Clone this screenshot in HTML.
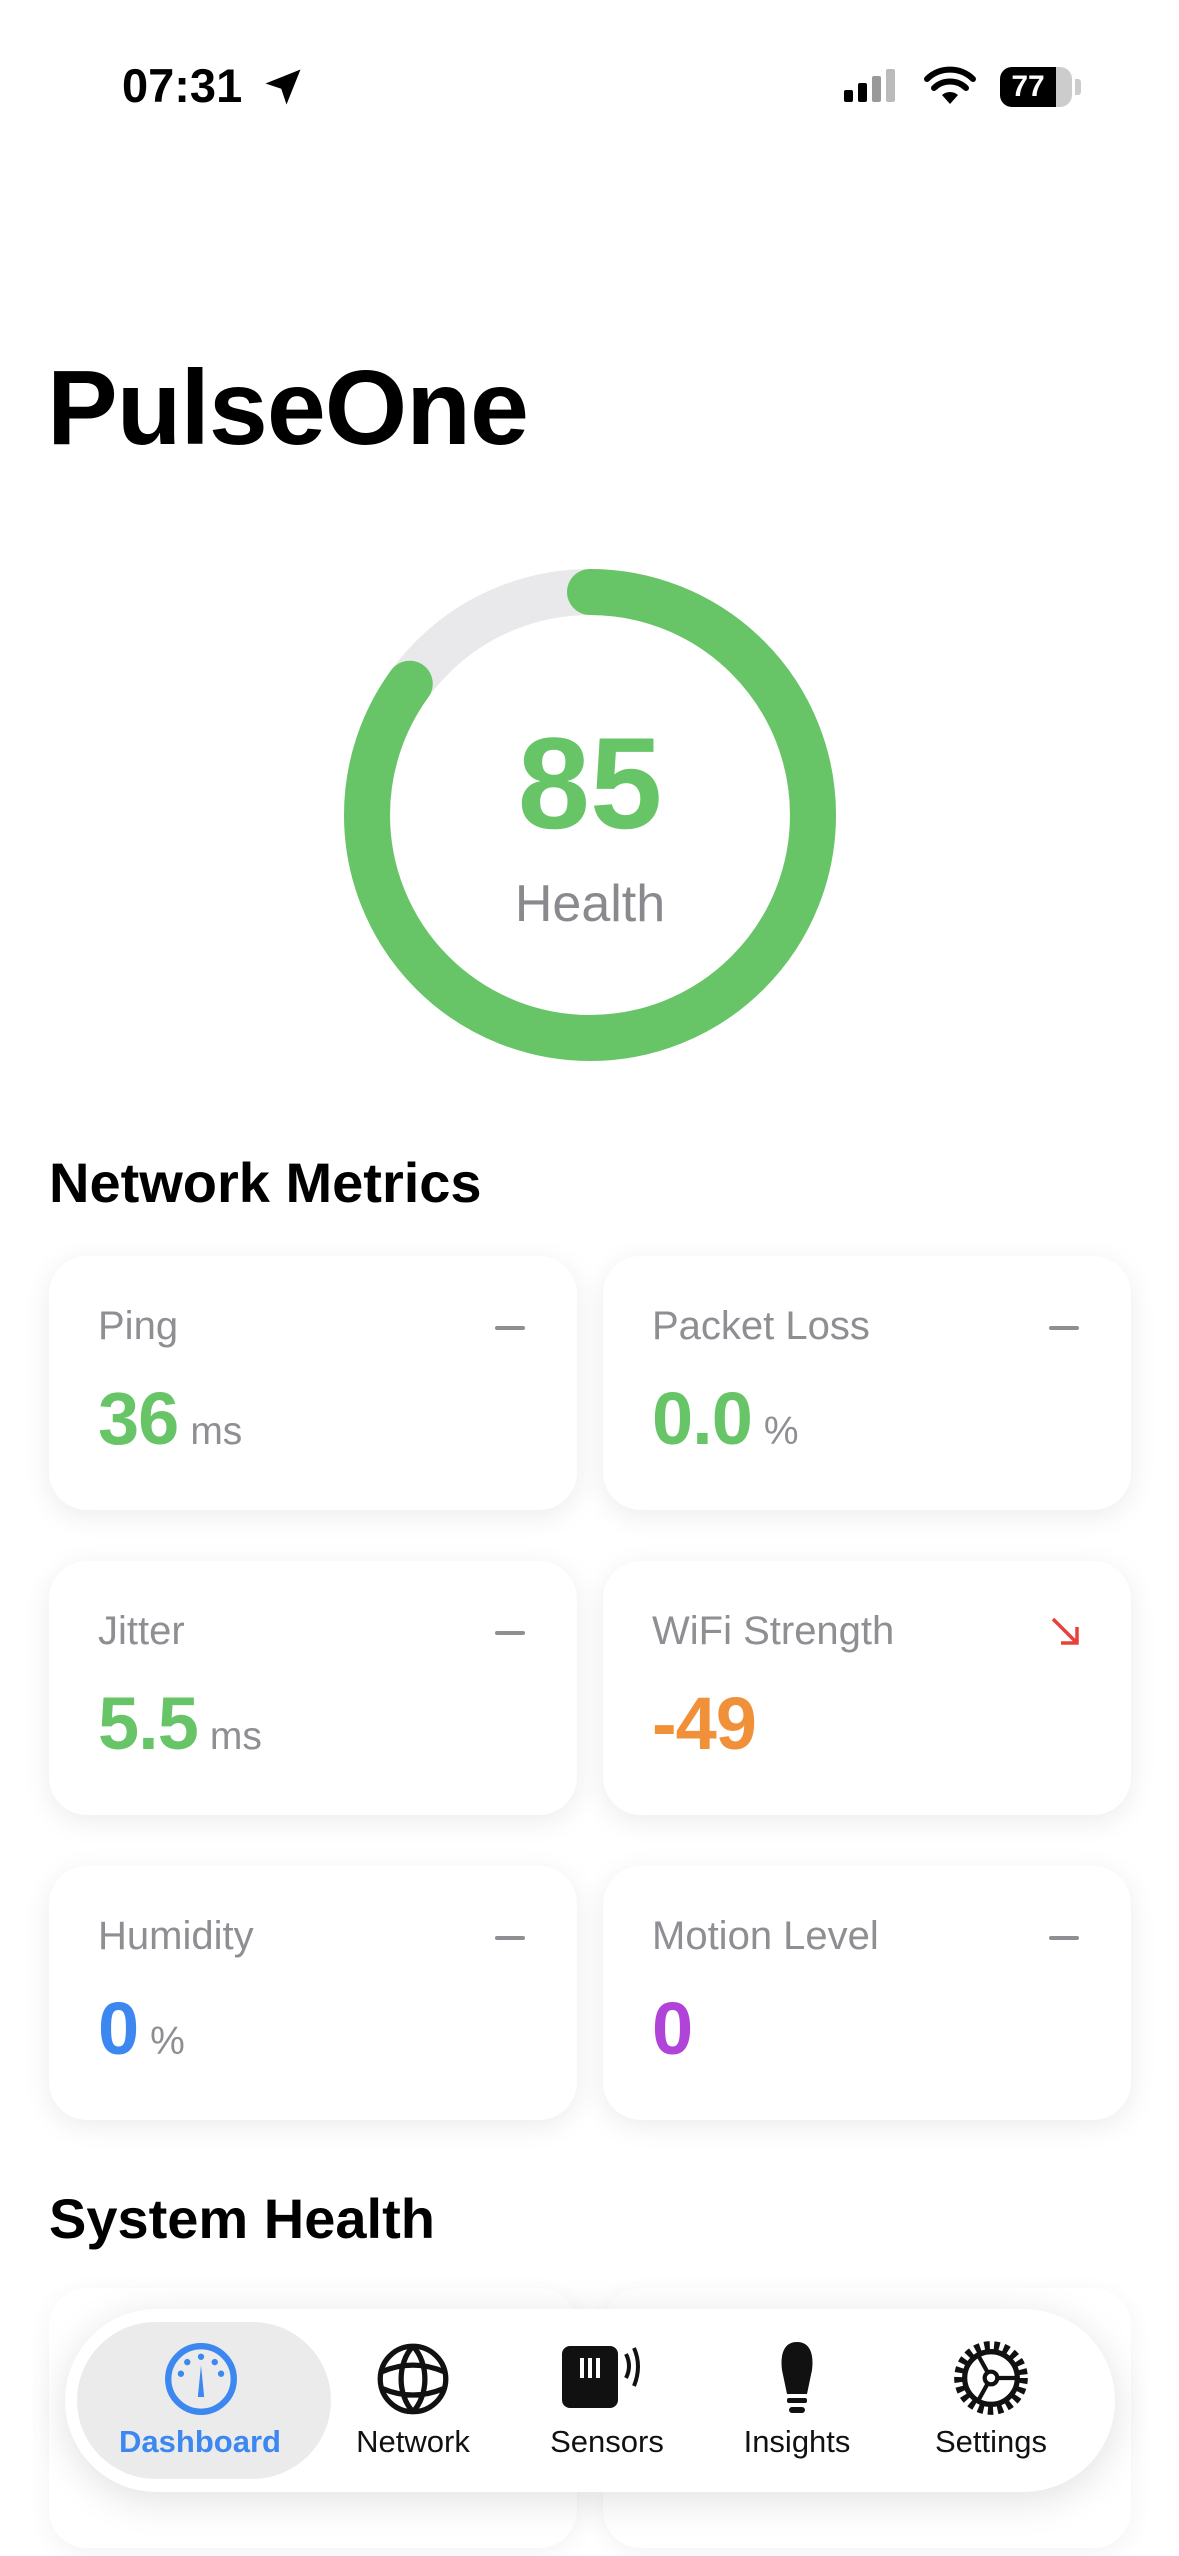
<!DOCTYPE html>
<html><head><meta charset="utf-8"><style>
*{margin:0;padding:0;box-sizing:border-box}
body{width:1179px;height:2556px;background:#fff;font-family:"Liberation Sans","DejaVu Sans",sans-serif;position:relative;overflow:hidden}
.abs{position:absolute}
.card{position:absolute;width:528px;height:254px;background:#fff;border-radius:38px;box-shadow:0 6px 28px rgba(0,0,0,0.08)}
.lbl{position:absolute;left:49px;top:48px;font-size:40px;color:#8e8e93}
.dash{position:absolute;right:52px;top:70px;width:30px;height:4px;background:#8e8e93;border-radius:2px}
.val{position:absolute;left:49px;top:120px;font-size:74px;font-weight:bold;letter-spacing:-1px}
.unit{font-size:39px;font-weight:normal;color:#8e8e93;margin-left:12px;letter-spacing:0}
.h2{position:absolute;left:49px;font-size:56px;font-weight:bold;color:#000}
.tab{position:absolute;top:2424px;font-size:31px;color:#111;transform:translateX(-50%)}
</style></head><body>
<div class="abs" style="left:122px;top:58px;font-size:47px;font-weight:bold">07:31</div>
<svg class="abs" style="left:262px;top:66px" width="42" height="42" viewBox="0 0 24 24"><path d="M22 2 L2 10 L11 13 L14 22 Z" fill="#000"/></svg>
<svg class="abs" style="left:844px;top:68px" width="60" height="40"><rect x="0" y="22" width="9" height="12" rx="2"/><rect x="14" y="15" width="9" height="19" rx="2"/><rect x="28" y="8" width="9" height="26" rx="2" fill="#999"/><rect x="42" y="1" width="9" height="33" rx="2" fill="#bbb"/></svg>
<svg class="abs" style="left:924px;top:66px" width="52" height="40" viewBox="0 0 52 40"><path d="M26 38 L18 29 A12 12 0 0 1 34 29 Z" fill="#000"/><path d="M10 22 A23 23 0 0 1 42 22" stroke="#000" stroke-width="6" fill="none" stroke-linecap="round"/><path d="M3 13 A33 33 0 0 1 49 13" stroke="#000" stroke-width="6" fill="none" stroke-linecap="round"/></svg>
<div class="abs" style="left:1000px;top:67px;width:72px;height:40px;border-radius:12px;background:#ccc;overflow:hidden"><div style="width:56px;height:40px;background:#000;color:#fff;font-weight:bold;font-size:30px;text-align:center;line-height:40px">77</div></div>
<div class="abs" style="left:1075px;top:79px;width:6px;height:16px;background:#ccc;border-radius:0 3px 3px 0"></div>

<div class="abs" style="left:47px;top:348px;font-size:106px;font-weight:bold;letter-spacing:-1px">PulseOne</div>

<svg class="abs" style="left:0;top:0" width="1179" height="1100">
<circle cx="590" cy="815" r="223" stroke="#e9e9eb" stroke-width="46" fill="none"/>
<circle cx="590" cy="815" r="223" stroke="#67c567" stroke-width="46" fill="none" stroke-linecap="round" stroke-dasharray="1191 2000" transform="rotate(-90 590 815)"/>
</svg>
<div class="abs" style="left:390px;width:400px;text-align:center;top:708px;font-size:130px;font-weight:bold;color:#67c567">85</div>
<div class="abs" style="left:390px;width:400px;text-align:center;top:874px;font-size:52px;color:#8a8a8e">Health</div>

<div class="h2" style="top:1150px">Network Metrics</div>

<div class="card" style="left:49px;top:1256px"><div class="lbl">Ping</div><div class="dash"></div><div class="val" style="color:#67c567">36<span class="unit">ms</span></div></div>
<div class="card" style="left:603px;top:1256px"><div class="lbl">Packet Loss</div><div class="dash"></div><div class="val" style="color:#67c567">0.0<span class="unit">%</span></div></div>
<div class="card" style="left:49px;top:1561px"><div class="lbl">Jitter</div><div class="dash"></div><div class="val" style="color:#67c567">5.5<span class="unit">ms</span></div></div>
<div class="card" style="left:603px;top:1561px"><div class="lbl">WiFi Strength</div>
<svg class="abs" style="right:48px;top:54px" width="34" height="34" viewBox="0 0 34 34"><path d="M4 4 L28 28 M28 12 L28 28 L12 28" stroke="#e8403a" stroke-width="3.5" fill="none"/></svg>
<div class="val" style="color:#f0913a">-49</div></div>
<div class="card" style="left:49px;top:1866px"><div class="lbl">Humidity</div><div class="dash"></div><div class="val" style="color:#3c87f0">0<span class="unit">%</span></div></div>
<div class="card" style="left:603px;top:1866px"><div class="lbl">Motion Level</div><div class="dash"></div><div class="val" style="color:#b044d8">0</div></div>

<div class="h2" style="top:2186px">System Health</div>
<div class="card" style="left:49px;top:2288px;height:260px;opacity:.7"></div>
<div class="card" style="left:603px;top:2288px;height:260px;opacity:.7"><div class="val" style="top:120px;color:#dff5df">20%</div></div>

<div class="abs" style="left:65px;top:2309px;width:1050px;height:183px;border-radius:92px;background:#fff;box-shadow:0 8px 40px rgba(0,0,0,0.12)"></div>
<div class="abs" style="left:77px;top:2322px;width:254px;height:157px;border-radius:80px;background:#ebebeb"></div>
<svg class="abs" style="left:164px;top:2342px" width="74" height="74" viewBox="0 0 70 70"><circle cx="35" cy="35" r="31" stroke="#3c87f0" stroke-width="6" fill="none"/><path d="M32 52 L35 22 L38 52 Z" fill="#3c87f0"/><g fill="#3c87f0"><circle cx="35" cy="14" r="3"/><circle cx="22" cy="19" r="3"/><circle cx="48" cy="19" r="3"/><circle cx="16" cy="30" r="3"/><circle cx="54" cy="30" r="3"/></g></svg>
<svg class="abs" style="left:376px;top:2342px" width="74" height="74" viewBox="0 0 70 70" fill="none" stroke="#111" stroke-width="5"><circle cx="35" cy="35" r="31"/><path d="M35 4 C20 20 20 50 35 66 M35 4 C50 20 50 50 35 66 M6 28 C25 20 45 20 64 28 M6 44 C25 52 45 52 64 44"/></svg>
<svg class="abs" style="left:562px;top:2340px" width="90" height="72" viewBox="0 0 90 72"><rect x="0" y="6" width="56" height="62" rx="8" fill="#111"/><path d="M20 18 V38 M28 18 V38 M36 18 V38" stroke="#fff" stroke-width="4"/><path d="M64 14 Q70 26 64 38 M72 8 Q80 26 72 46" stroke="#111" stroke-width="4" fill="none"/></svg>
<svg class="abs" style="left:772px;top:2338px" width="50" height="80" viewBox="0 0 50 76"><path d="M25 2 C38 2 42 14 40 30 L35 54 L15 54 L10 30 C8 14 12 2 25 2 Z" fill="#111"/><rect x="15" y="58" width="20" height="5" rx="2" fill="#111"/><rect x="17" y="67" width="16" height="6" rx="3" fill="#111"/></svg>
<svg class="abs" style="left:951px;top:2338px" width="80" height="80" viewBox="0 0 76 76"><circle cx="38" cy="38" r="30" stroke="#111" stroke-width="10" stroke-dasharray="5 4" fill="none"/><circle cx="38" cy="38" r="25" stroke="#111" stroke-width="5" fill="#fff"/><circle cx="38" cy="38" r="6" stroke="#111" stroke-width="4" fill="none"/><path d="M44 38 H63 M35 33 L25 15 M35 43 L25 61" stroke="#111" stroke-width="4"/></svg>
<div class="tab" style="left:200px;color:#3c87f0;font-weight:bold">Dashboard</div>
<div class="tab" style="left:413px">Network</div>
<div class="tab" style="left:607px">Sensors</div>
<div class="tab" style="left:797px">Insights</div>
<div class="tab" style="left:991px">Settings</div>
</body></html>
